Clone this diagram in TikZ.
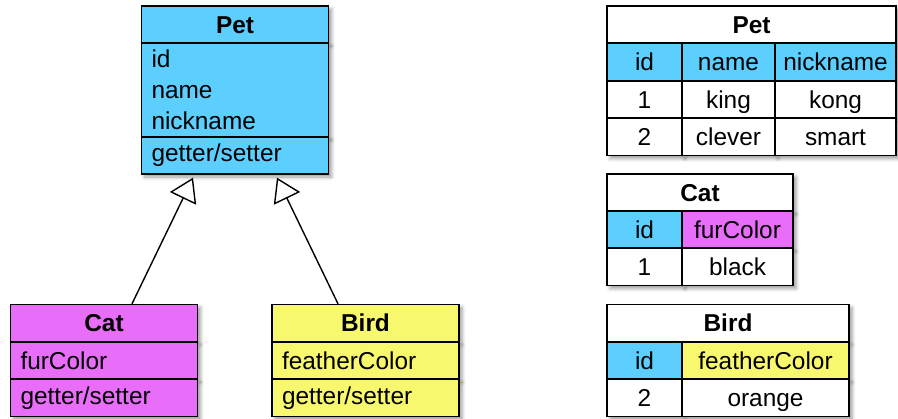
\documentclass[tikz,border=0pt]{standalone}
\usepackage{fontspec}
\setmainfont{Liberation Sans}
\usetikzlibrary{arrows.meta,shadows.blur}
\definecolor{petblue}{RGB}{92,207,255}
\definecolor{catpink}{RGB}{232,110,250}
\definecolor{birdyellow}{RGB}{248,248,110}

\begin{document}
\begin{tikzpicture}[x=0.5pt,y=-0.5pt,line width=0.7pt,
  every node/.style={font=\fontsize{12.2}{15.5}\selectfont},
  box/.style={draw,inner sep=0pt,
    blur shadow={shadow xshift=1.5pt,shadow yshift=-1.5pt,shadow blur radius=1.8pt,shadow opacity=40}},
  oneline/.style={text height=11pt,text depth=2.3pt},
  classhead/.style={box,oneline,minimum width=93.5pt,minimum height=18.5pt,
    font=\fontsize{12.2}{15.5}\selectfont\bfseries},
  classbody/.style={box,text width=83.5pt,inner xsep=5pt,align=left,minimum height=#1},
  classbody/.default=18.5pt,
  cell/.style={box,oneline,fill=white,minimum height=18.5pt,minimum width=#1},
  tabtitle/.style={cell=#1,font=\fontsize{12.2}{15.5}\selectfont\bfseries},
  extends/.style={-{Triangle[fill=white,length=11.5pt,width=14.5pt]}}]
\useasboundingbox (0,0) rectangle (898,418);
%父类
\node[classhead,fill=petblue] (petHead) at (235,24.5) {Pet};
\node[classbody=47pt,fill=petblue] (petAttr) at (235,90) {id\\name\\nickname};
\node[classbody,fill=petblue] (petOps) at (235,155.5) {getter/setter};
%子类
\node[classhead,fill=catpink] (catHead) at (104,323) {Cat};
\node[classbody,fill=catpink] (catAttr) at (104,360.5) {furColor};
\node[classbody,fill=catpink] (catOps) at (104,398) {getter/setter};
\node[classhead,fill=birdyellow] (birdHead) at (365.5,323) {Bird};
\node[classbody,fill=birdyellow] (birdAttr) at (365.5,360.5) {featherColor};
\node[classbody,fill=birdyellow] (birdOps) at (365.5,398) {getter/setter};
%Pet表
\node[tabtitle=144.5pt] (tPet) at (751.5,24.5) {Pet};
\node[cell=37.5pt,fill=petblue] (tPetId) at (644.5,62) {id};
\node[cell=46.5pt,fill=petblue] (tPetName) at (728.5,62) {name};
\node[cell=60.5pt,fill=petblue] (tPetNick) at (835.5,62) {nickname};
\node[cell=37.5pt] (tPetIdA) at (644.5,99.5) {1};
\node[cell=46.5pt] (tPetNameA) at (728.5,99.5) {king};
\node[cell=60.5pt] (tPetNickA) at (835.5,99.5) {kong};
\node[cell=37.5pt] (tPetIdB) at (644.5,137) {2};
\node[cell=46.5pt] (tPetNameB) at (728.5,137) {clever};
\node[cell=60.5pt] (tPetNickB) at (835.5,137) {smart};
%Cat表
\node[tabtitle=93pt] (tCat) at (700,192.5) {Cat};
\node[cell=37.5pt,fill=petblue] (tCatId) at (644.5,229.5) {id};
\node[cell=55.5pt,fill=catpink] (tCatFur) at (737.5,229.5) {furColor};
\node[cell=37.5pt] (tCatIdA) at (644.5,267) {1};
\node[cell=55.5pt] (tCatFurA) at (737.5,267) {black};
%Bird表
\node[tabtitle=121pt] (tBird) at (728,323) {Bird};
\node[cell=37.5pt,fill=petblue] (tBirdId) at (644.5,360.5) {id};
\node[cell=83.5pt,fill=birdyellow] (tBirdFeather) at (765.5,360.5) {featherColor};
\node[cell=37.5pt] (tBirdIdA) at (644.5,398) {2};
\node[cell=83.5pt] (tBirdFeatherA) at (765.5,398) {orange};

\draw[extends] ([xshift=14pt]catHead.north)--([xshift=-21pt,yshift=-1.5pt]petOps.south);
\draw[extends] ([xshift=-13.75pt]birdHead.north)--([xshift=21pt,yshift=-1.5pt]petOps.south);
\end{tikzpicture}
\end{document}
